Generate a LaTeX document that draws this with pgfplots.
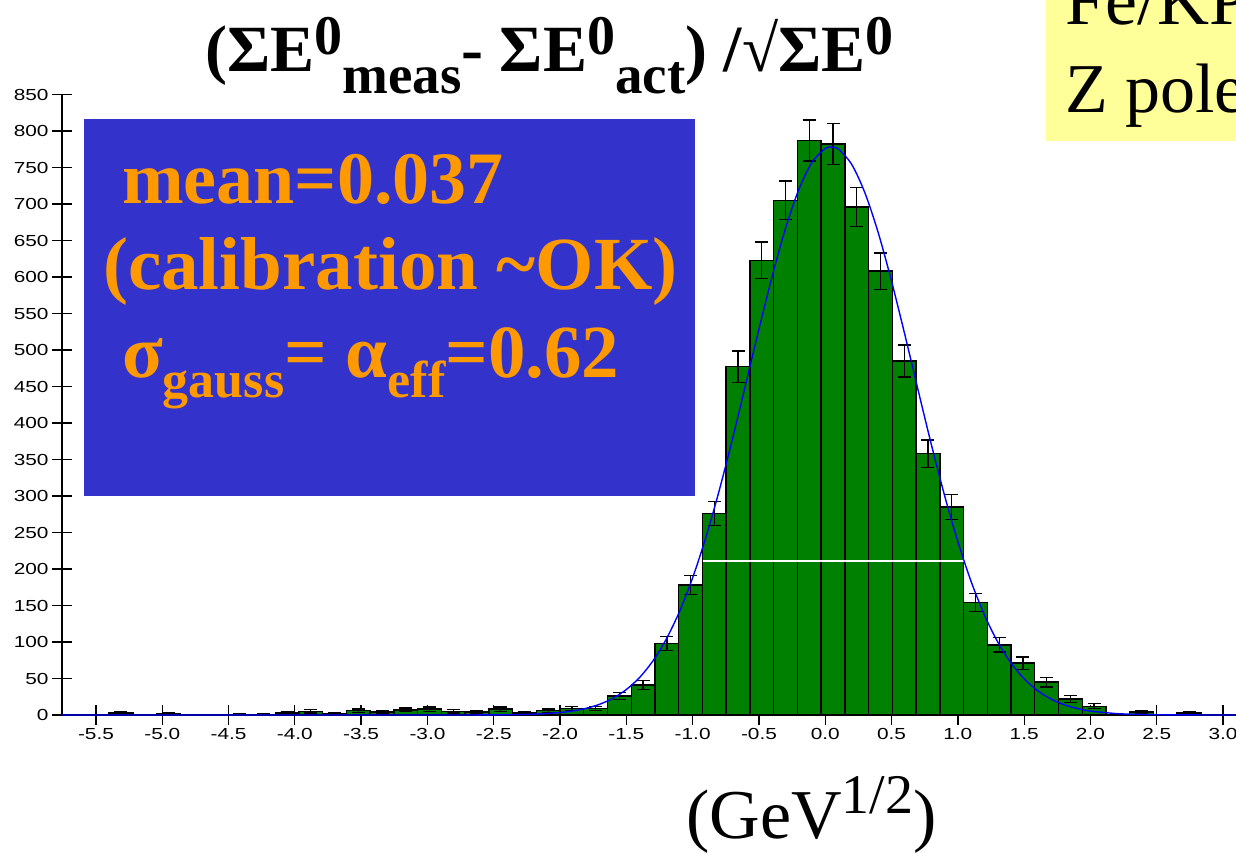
\documentclass[border=0pt]{standalone}
\usepackage{fontspec}
\usepackage{pgfplots}
\pgfplotsset{compat=1.18}
\setmainfont{Liberation Serif}
\newfontfamily\tickfont[FakeStretch=1.3]{Liberation Sans}
\definecolor{boxblue}{RGB}{51,51,204}
\definecolor{txtorange}{RGB}{255,153,0}
\definecolor{boxyellow}{RGB}{255,255,153}
\definecolor{bargreen}{RGB}{0,128,0}
\newcommand{\tsup}[1]{\raisebox{17pt}{\fontsize{56}{56}\selectfont #1}}
\newcommand{\tsub}[1]{\raisebox{-22pt}{\fontsize{55}{55}\selectfont #1}}
\newcommand{\bsub}[1]{\raisebox{-20pt}{\fontsize{52}{52}\selectfont #1}}

\pgfplotstableread{
x y e
-5.3115 3 1.7
-4.9535 2 1.4
-4.4165 1 1.0
-4.2375 1 1.0
-4.0585 3 1.7
-3.8795 5 2.2
-3.7005 2 1.4
-3.5215 6 2.4
-3.3425 4 2.0
-3.1635 7 2.6
-2.9845 8 2.8
-2.8055 5 2.2
-2.6265 4 2.0
-2.4475 8 2.8
-2.2685 3 1.7
-2.0895 6 2.4
-1.9105 9 3.0
-1.7315 9 3.0
-1.5525 26 5.1
-1.3735 41 6.4
-1.1945 98 9.9
-1.0155 178 13.3
-0.8365 276 16.6
-0.6575 477 21.8
-0.4785 623 25.0
-0.2995 705 26.6
-0.1205 787 28.1
0.0585 782 28.0
0.2375 696 26.4
0.4165 608 24.7
0.5955 485 22.0
0.7745 358 18.9
0.9535 285 16.9
1.1325 154 12.4
1.3115 96 9.8
1.4905 71 8.4
1.6695 45 6.7
1.8485 22 4.7
2.0275 12 3.5
2.3855 4 2.0
2.7435 3 1.7
}\histdata

\pgfplotstableread{
x y
-5.756 0
-3.0 0
-2.6 0.1
-2.4 0.3
-2.2 1.1
-2.0 3.4
-1.9 5.7
-1.8 9.3
-1.7 14.8
-1.6 23.0
-1.5 34.9
-1.4 51.4
-1.3 74.0
-1.2 103.6
-1.1 141.4
-1.0 188.0
-0.9 243.5
-0.8 307.3
-0.7 378.0
-0.6 452.9
-0.5 528.7
-0.4 601.3
-0.3 666.4
-0.2 719.6
-0.1 757.0
0.0 776.0
0.045 778.0
0.1 775.0
0.2 754.1
0.3 714.9
0.4 660.4
0.5 594.3
0.6 521.2
0.7 445.3
0.8 370.6
0.9 300.6
1.0 237.5
1.1 182.9
1.2 137.2
1.3 100.3
1.4 71.4
1.5 49.6
1.6 33.5
1.7 22.1
1.8 14.2
1.9 8.9
2.0 5.4
2.2 1.9
2.4 0.6
2.6 0.2
3.0 0
3.3 0
}\fitdata

\begin{document}
\begin{tikzpicture}[x=1pt,y=1pt]
\useasboundingbox (0,0) rectangle (1236,852);
\clip (0,0) rectangle (1236,852);
\fill[white] (0,0) rectangle (1236,852);
\begin{axis}[
  at={(62pt,137pt)}, anchor=south west,
  scale only axis, width=1187.6pt, height=620.5pt,
  xmin=-5.756, xmax=3.2, ymin=0, ymax=850,
  axis x line=bottom, axis y line=left,
  axis line style={-, line width=1.5pt, black},
  xtick={-5.5,-5,...,3}, ytick={0,50,...,850},
  tick align=center, major tick length=20pt,
  tick style={line width=1.3pt, black},
  /pgf/number format/assume math mode=true,
  tick label style={font={\fontsize{16}{18}\tickfont}},
  xticklabel style={/pgf/number format/.cd, fixed, fixed zerofill, precision=1},
  yticklabel style={/pgf/number format/.cd, fixed, precision=0},
  clip=true,
]
\addplot[ybar, bar width=0.179, fill=bargreen, draw=black, line width=1.4pt,
  error bars/.cd, y dir=both, y explicit,
  error bar style={line width=1.3pt, black},
  error mark options={rotate=90, mark size=6.5pt, line width=1.3pt, black}]
  table[x=x, y=y, y error=e] {\histdata};
\addplot[white, line width=1.5pt] coordinates {(-0.925,211) (1.043,211)};
\addplot[blue, line width=1.4pt, smooth] table[x=x, y=y] {\fitdata};
\end{axis}
% blue text box
\fill[boxblue] (84,356) rectangle (695,733);
\node[anchor=base west, inner sep=0, text=txtorange] at (122,648)
  {\fontsize{74}{74}\bfseries mean=0.037};
\node[anchor=base west, inner sep=0, text=txtorange] at (103,562)
  {\fontsize{75}{75}\bfseries (calibration \textasciitilde OK)};
\node[anchor=base west, inner sep=0, text=txtorange] at (122,474)
  {\fontsize{75}{75}\bfseries σ\bsub{gauss}= α\bsub{eff}=0.62};
% title
\node[anchor=base west, inner sep=0] at (205,780)
  {\fontsize{66}{66}\bfseries (ΣE\tsup{0}\tsub{meas}- ΣE\tsup{0}\tsub{act}) /√ΣE\tsup{0}};
% yellow box
\fill[boxyellow] (1046,711) rectangle (1240,860);
\node[anchor=base west, inner sep=0] at (1065,827) {\fontsize{72}{72}\selectfont Fe/KP};
\node[anchor=base west, inner sep=0] at (1065,739) {\fontsize{70}{70}\selectfont Z pole};
% x label
\node[anchor=base west, inner sep=0] at (686,14)
  {\fontsize{70}{70}\selectfont (GeV\raisebox{25pt}{\fontsize{56}{56}\selectfont 1/2})};
\end{tikzpicture}
\end{document}
